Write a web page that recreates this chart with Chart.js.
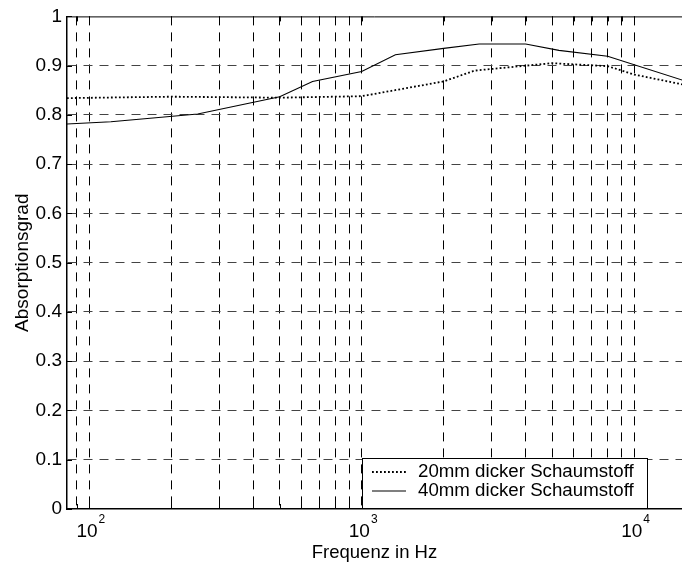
<!DOCTYPE html>
<html>
<head>
<meta charset="utf-8">
<script src="https://cdn.jsdelivr.net/npm/chart.js@4.4.0/dist/chart.umd.min.js"></script>
<style>
  html, body { margin: 0; padding: 0; background: #fff; }
</style>
</head>
<body>
<canvas id="absChart" width="682" height="562"></canvas>
<script>
const freq20 = [80, 200, 500, 1000, 2000, 2600, 4000, 5000, 8000, 10000, 16000];
const abs20  = [0.834, 0.837, 0.835, 0.838, 0.868, 0.890, 0.900, 0.905, 0.899, 0.882, 0.859];

const freq40 = [80, 120, 250, 500, 660, 1000, 1330, 2000, 2700, 4000, 5300, 8000, 16000];
const abs40  = [0.781, 0.786, 0.802, 0.837, 0.868, 0.888, 0.922, 0.935, 0.944, 0.944, 0.931, 0.919, 0.866];

const seriesNames = ["20mm dicker Schaumstoff", "40mm dicker Schaumstoff"];

// log grid positions and the decade labels (10^2, 10^3, 10^4)
const gridFreqs = [90, 100, 200, 300, 400, 500, 600, 700, 800, 900,
                   1000, 2000, 3000, 4000, 5000, 6000, 7000, 8000, 9000, 10000];
const decadeTicks = [100, 1000, 10000];
const decadeExps = ["2", "3", "4"];

const FONT = "'Liberation Sans', Arial, sans-serif";
Chart.defaults.font.family = FONT;
Chart.defaults.color = "#000";

function toPoints(xs, ys) {
  return xs.map((x, i) => ({ x: x, y: ys[i] }));
}

// MATLAB-ish box: top border, inner ticks, 10^n labels, legend
const matlabAxes = {
  id: "matlabAxes",
  afterDraw(chart) {
    const ctx = chart.ctx;
    const { left, right, top, bottom } = chart.chartArea;
    const xs = chart.scales.x;
    const ys = chart.scales.y;

    ctx.save();
    ctx.strokeStyle = "#000";
    ctx.lineWidth = 1;
    ctx.beginPath();
    ctx.moveTo(left, top + 0.5);
    ctx.lineTo(right, top + 0.5);
    ctx.stroke();

    // ticks pointing inwards
    ctx.beginPath();
    gridFreqs.forEach(f => {
      const px = Math.round(xs.getPixelForValue(f)) + 0.5;
      ctx.moveTo(px, bottom);
      ctx.lineTo(px, bottom - 5);
      ctx.moveTo(px, top);
      ctx.lineTo(px, top + 5);
    });
    ys.ticks.forEach(t => {
      const py = Math.round(ys.getPixelForValue(t.value)) + 0.5;
      ctx.moveTo(left, py);
      ctx.lineTo(left + 5, py);
    });
    ctx.stroke();

    // decade labels with superscript
    ctx.fillStyle = "#000";
    ctx.textBaseline = "alphabetic";
    decadeTicks.forEach((f, i) => {
      const px = xs.getPixelForValue(f);
      ctx.font = "19px " + FONT;
      const wBase = ctx.measureText("10").width;
      ctx.font = "12px " + FONT;
      const wExp = ctx.measureText(decadeExps[i]).width;
      const x0 = px - (wBase + wExp) / 2 + 1;
      ctx.font = "19px " + FONT;
      ctx.textAlign = "left";
      ctx.fillText("10", x0, bottom + 28);
      ctx.font = "12px " + FONT;
      ctx.fillText(decadeExps[i], x0 + wBase + 1, bottom + 14);
    });

    // legend box
    const boxW = 285, boxH = 50;
    const bx = right - 35 - boxW;
    const by = bottom - 1 - boxH;
    ctx.fillStyle = "#fff";
    ctx.fillRect(bx, by, boxW, boxH);
    ctx.strokeStyle = "#000";
    ctx.lineWidth = 1;
    ctx.strokeRect(Math.round(bx) + 0.5, Math.round(by) + 0.5, boxW, boxH);

    chart.data.datasets.forEach((ds, i) => {
      const ly = by + 14 + i * 19;
      ctx.beginPath();
      ctx.setLineDash(ds.borderDash || []);
      ctx.lineWidth = ds.borderWidth;
      ctx.strokeStyle = ds.borderColor;
      ctx.moveTo(bx + 10, ly);
      ctx.lineTo(bx + 44, ly);
      ctx.stroke();
      ctx.setLineDash([]);
      ctx.fillStyle = "#000";
      ctx.font = "18.7px " + FONT;
      ctx.textAlign = "left";
      ctx.textBaseline = "middle";
      ctx.fillText(ds.label, bx + 56, ly);
    });
    ctx.restore();
  }
};

new Chart(document.getElementById("absChart"), {
  type: "line",
  data: {
    datasets: [
      {
        label: seriesNames[0],
        data: toPoints(freq20, abs20),
        borderColor: "#000",
        borderWidth: 1.8,
        borderDash: [1.8, 2.2],
        pointRadius: 0,
        fill: false,
        tension: 0
      },
      {
        label: seriesNames[1],
        data: toPoints(freq40, abs40),
        borderColor: "#000",
        borderWidth: 1.1,
        pointRadius: 0,
        fill: false,
        tension: 0
      }
    ]
  },
  options: {
    responsive: false,
    animation: false,
    devicePixelRatio: 1,
    layout: { padding: { top: 16, right: 0, left: 0, bottom: 0 } },
    plugins: {
      legend: { display: false },
      tooltip: { enabled: false }
    },
    scales: {
      x: {
        type: "logarithmic",
        min: 82.8,
        max: 15000,
        afterBuildTicks: scale => {
          scale.ticks = gridFreqs.map(v => ({ value: v }));
        },
        afterFit: scale => { scale.height = 53; },
        ticks: {
          autoSkip: false,
          maxRotation: 0,
          callback: () => ""
        },
        grid: {
          color: "#000",
          lineWidth: 1,
          drawTicks: false
        },
        border: { display: true, color: "#000", width: 1.5, dash: [9, 7] },
        title: {
          display: true,
          text: "Frequenz in Hz",
          font: { size: 18.5, lineHeight: 1 },
          padding: { top: 0, bottom: 0 }
        }
      },
      y: {
        min: 0,
        max: 1,
        afterFit: scale => { scale.width = 67; },
        ticks: {
          stepSize: 0.1,
          padding: 5,
          font: { size: 19 },
          callback: v => String(+v.toFixed(1))
        },
        grid: {
          color: c => (c.tick.value <= 0 || c.tick.value >= 1) ? "rgba(0,0,0,0)" : "#444",
          lineWidth: 1,
          drawTicks: false
        },
        border: { display: true, color: "#000", width: 1.5, dash: [9, 7] },
        title: {
          display: true,
          text: "Absorptionsgrad",
          font: { size: 19, lineHeight: 1.2 },
          padding: { top: 11, bottom: 0 }
        }
      }
    }
  },
  plugins: [matlabAxes]
});
</script>
</body>
</html>
